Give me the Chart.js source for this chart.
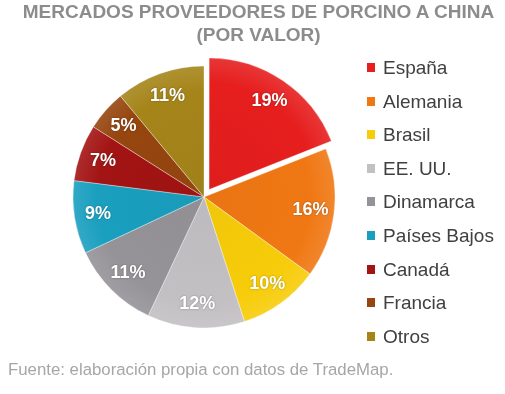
<!DOCTYPE html>
<html>
<head>
<meta charset="utf-8">
<script src="https://cdn.jsdelivr.net/npm/chart.js@4.4.0/dist/chart.umd.min.js"></script>
<style>
    body { margin: 0; background: #fff; font-family: "Liberation Sans", Arial, sans-serif; }
    #wrap { position: relative; width: 505px; height: 394px; overflow: hidden; }
    #chart { position: absolute; left: 0; top: 0; }
    #title { position: absolute; left: 6px; top: 0; width: 505px; text-align: center;
             font-weight: bold; font-size: 19px; line-height: 23px; color: #8c8c8c; }
    #legend { position: absolute; left: 0; top: 0; }
    .item { position: absolute; left: 367px; height: 24px; line-height: 24px;
            font-size: 19px; color: #404040; white-space: nowrap; }
    .box { position: absolute; left: 0; top: 7px; width: 8px; height: 9px; }
    .txt { position: absolute; left: 16px; top: 0; }
    #source { position: absolute; left: 8px; top: 360px; font-size: 16.8px; color: #a6a6a6; white-space: nowrap; }
</style>
</head>
<body>
<div id="wrap">
    <canvas id="chart" width="505" height="394"></canvas>
    <div id="title">MERCADOS PROVEEDORES DE PORCINO A CHINA<br>(POR VALOR)</div>
    <div id="legend"></div>
    <div id="source">Fuente: elaboración propia con datos de TradeMap.</div>
</div>
<script>
// Chart data
const countries = ['España', 'Alemania', 'Brasil', 'EE. UU.', 'Dinamarca', 'Países Bajos', 'Canadá', 'Francia', 'Otros'];
const shares = [19, 16, 10, 12, 11, 9, 7, 5, 11];
const sliceColors = ['#e61e1e', '#f07814', '#f7cc0a', '#c2c0c3', '#959398', '#1a9fbf', '#a31414', '#96460f', '#a5851a'];
// Chart.js draws an arc offset at a quarter of this value -> ~9px for España
const explode = [36, 0, 0, 0, 0, 0, 0, 0, 0];

// mix a hex colour with white (amt > 0) or black (amt < 0)
function shade(hex, amt) {
    const n = parseInt(hex.slice(1), 16);
    let r = n >> 16, g = (n >> 8) & 255, b = n & 255;
    const t = amt > 0 ? 255 : 0;
    const p = Math.abs(amt);
    r = Math.round(r + (t - r) * p);
    g = Math.round(g + (t - g) * p);
    b = Math.round(b + (t - b) * p);
    return `rgb(${r},${g},${b})`;
}

// Percentage labels drawn inside each slice
const sliceLabels = {
    id: 'sliceLabels',
    afterDatasetsDraw(chart) {
        const ctx = chart.ctx;
        const meta = chart.getDatasetMeta(0);
        ctx.save();
        ctx.font = 'bold 18px "Liberation Sans", Arial, sans-serif';
        ctx.fillStyle = '#ffffff';
        ctx.textAlign = 'center';
        ctx.textBaseline = 'middle';
        ctx.shadowColor = 'rgba(0,0,0,0.35)';
        ctx.shadowBlur = 2;
        meta.data.forEach((arc, i) => {
            const angle = (arc.startAngle + arc.endAngle) / 2;
            const r = arc.outerRadius * 0.82 + (arc.options.offset || 0) / 4;
            ctx.fillText(shares[i] + '%', arc.x + Math.cos(angle) * r, arc.y + Math.sin(angle) * r);
        });
        ctx.restore();
    }
};

// Legend on the right
const legend = document.getElementById('legend');
countries.forEach((name, i) => {
    const item = document.createElement('div');
    item.className = 'item';
    item.style.top = (68 + i * 33.6 - 12) + 'px';
    item.innerHTML = `<span class="box" style="background:${sliceColors[i]}"></span><span class="txt">${name}</span>`;
    legend.appendChild(item);
});

new Chart(document.getElementById('chart'), {
    type: 'pie',
    data: {
        labels: countries,
        datasets: [{
            data: shares,
            backgroundColor: function(c) {
                const base = sliceColors[c.dataIndex];
                const area = c.chart.chartArea;
                if (!area) return base;
                const cx = (area.left + area.right) / 2;
                const cy = (area.top + area.bottom) / 2;
                const g = c.chart.ctx.createRadialGradient(cx, cy, 0, cx, cy, 142);
                g.addColorStop(0, shade(base, -0.03));
                g.addColorStop(0.75, base);
                g.addColorStop(1, shade(base, 0.15));
                return g;
            },
            borderColor: 'rgba(255,255,255,0.35)',
            borderWidth: 1,
            offset: explode
        }]
    },
    options: {
        responsive: false,
        animation: false,
        radius: 131,
        layout: { padding: { left: 0, right: 97, top: 0, bottom: 0 } },
        plugins: {
            legend: { display: false },
            tooltip: { enabled: false }
        }
    },
    plugins: [sliceLabels]
});
</script>
</body>
</html>
